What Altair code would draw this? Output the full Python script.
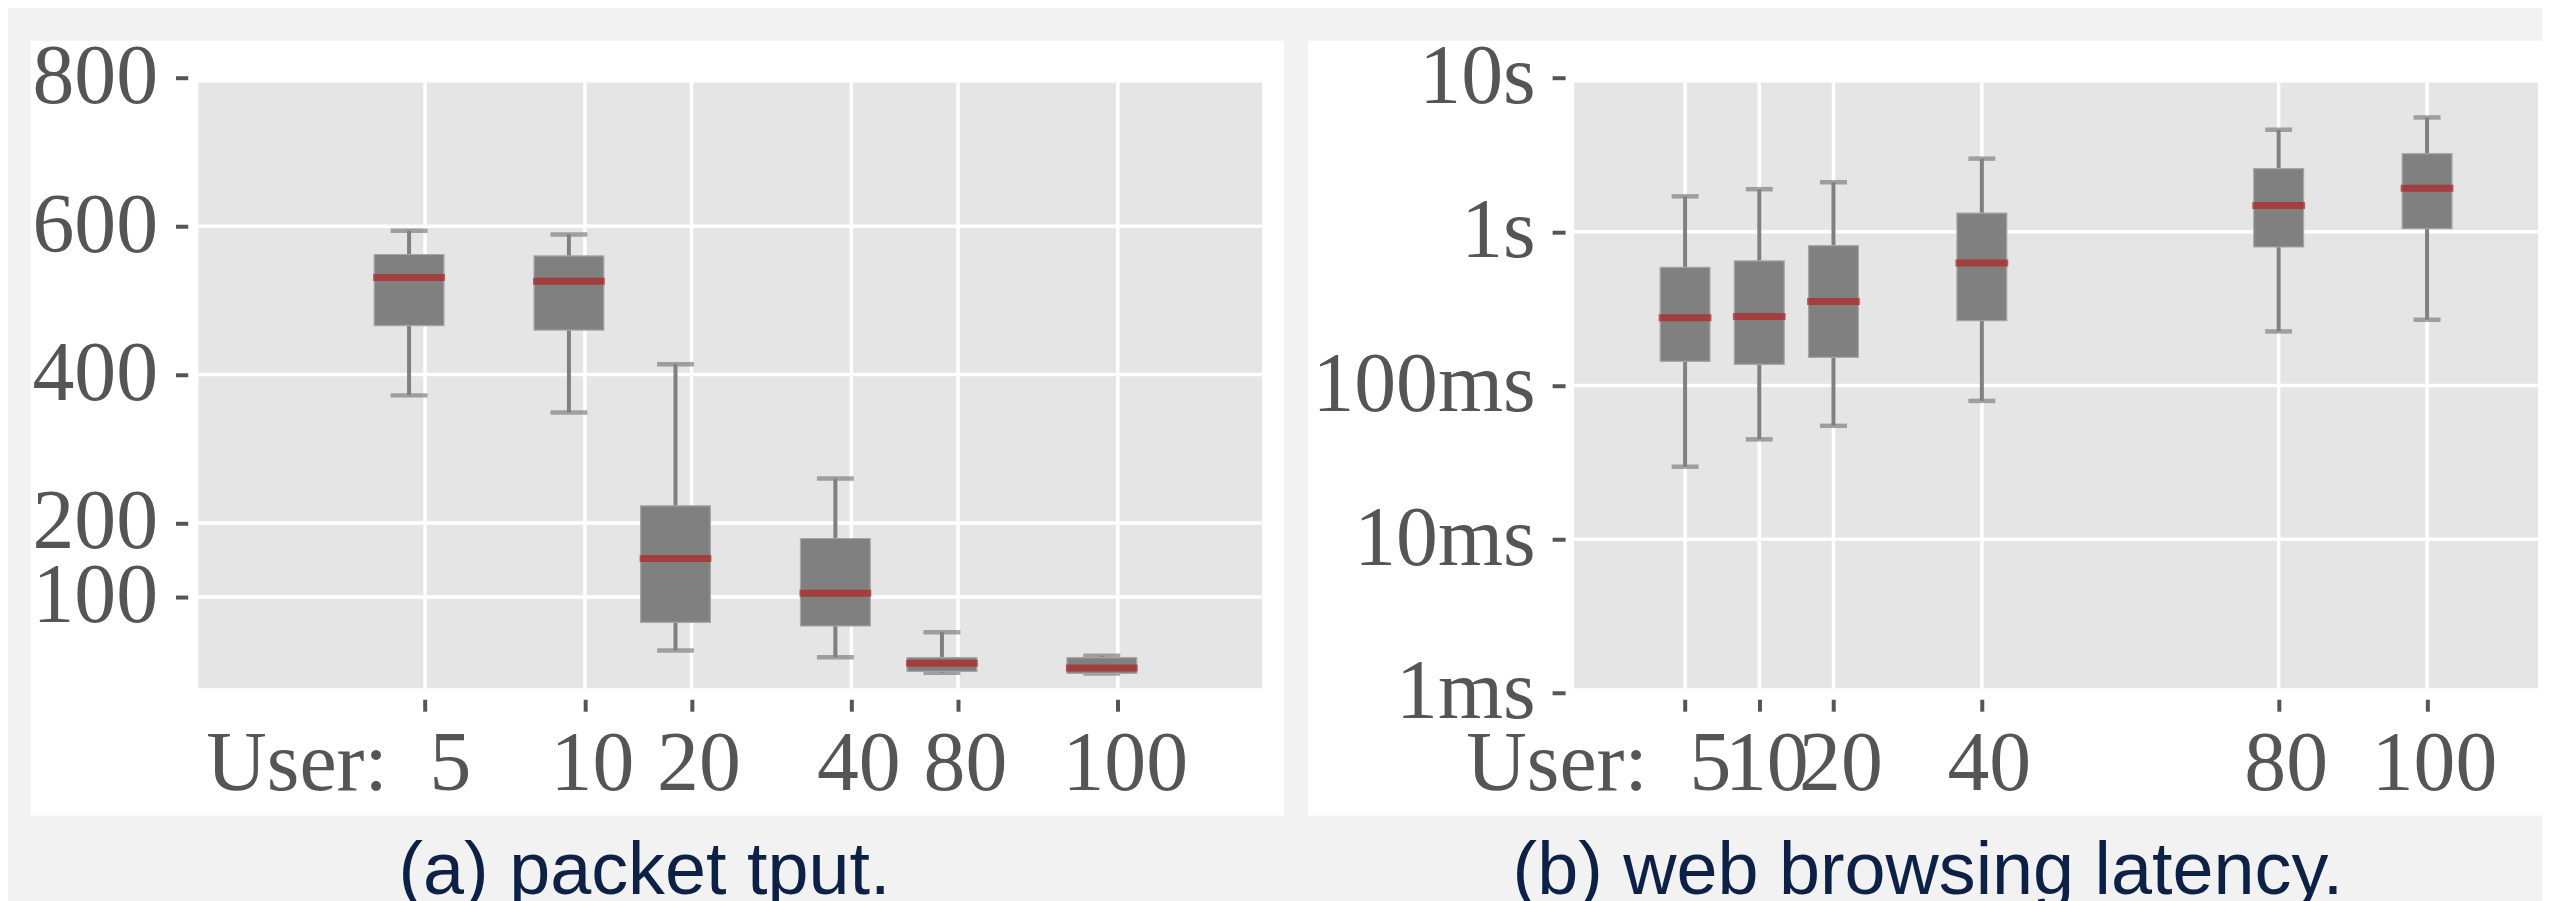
import altair as alt
import pandas as pd

# ---------------- data ----------------
users = [5, 10, 20, 40, 80, 100]
# (a) packet throughput
a_tick_pos = [0, 3, 5, 8, 10, 13]
a_tick_labels = ["User:\u00a0\u00a05", "10", "20", "40", "80", "100"]
a_box_pos = [-0.3, 2.7, 4.7, 7.7, 9.7, 12.7]
a_lo = [372, 349, 28, 19, -2.2, -3.2]
a_q1 = [466, 460, 66, 61, -0.2, -2.8]
a_med = [531, 526, 152, 105, 10.6, 4.3]
a_q3 = [562, 560, 223, 179, 18.3, 18.3]
a_hi = [594, 589, 414, 260, 52.7, 20.9]
a_yticks = [100, 200, 400, 600, 800]
a_ygrid = [100, 200, 400, 600]

# (b) web browsing latency (seconds)
b_tick_pos = [1, 2, 3, 5, 9, 11]
b_tick_labels = ["User:\u00a0\u00a05", "10", "20", "40", "80", "100"]
b_box_pos = [1, 2, 3, 5, 9, 11]
b_lo = [0.0296, 0.0446, 0.0546, 0.0793, 0.2246, 0.2676]
b_q1 = [0.1435, 0.1373, 0.1524, 0.2636, 0.7955, 1.046]
b_med = [0.2756, 0.2811, 0.3516, 0.6266, 1.482, 1.92]
b_q3 = [0.587, 0.6457, 0.811, 1.322, 2.575, 3.22]
b_hi = [1.70, 1.891, 2.10, 2.99, 4.61, 5.54]
b_yticks = [0.001, 0.01, 0.1, 1, 10]
b_ylabels = ["1ms", "10ms", "100ms", "1s", "10s"]
b_ygrid = [0.01, 0.1, 1]

LABEL_COLOR = "#555555"
SERIF = "Liberation Serif, DejaVu Serif, serif"
BOX_GRAY = "#808080"


def label_expr(values, labels):
    expr = "''"
    for v, l in reversed(list(zip(values, labels))):
        expr = f"abs(datum.value - {v}) < 1e-6 * max(1, abs({v})) ? '{l}' : {expr}"
    return expr


def panel(tick_pos, tick_labels, box_pos, lo, q1, med, q3, hi,
          yticks, ylabel_expr, ygrid, xdomain, yscale, W, H, plot_box,
          box_w, med_w, cap_w, yaxis_offset, ytick, yaxis_pad,
          caption, cap_dx):
    px1, px2, py1, py2 = plot_box
    xs = alt.Scale(domain=xdomain, nice=False, zero=False)
    first = tick_pos[0]
    xaxis = alt.Axis(
        values=tick_pos, labelExpr=label_expr(tick_pos, tick_labels),
        grid=False, domain=False, tickColor=LABEL_COLOR, tickWidth=4,
        tickSize=12, offset=-(H - 660.5), labelPadding=13, labelFont=SERIF,
        labelFontSize=84, labelColor=LABEL_COLOR, title=None, labelLimit=2000,
        labelOverlap=False, labelFlush=False,
        labelAlign={"condition": {"test": f"datum.value == {first}", "value": "right"},
                    "value": "center"},
        labelOffset={"condition": {"test": f"datum.value == {first}", "value": 46},
                     "value": 7},
    )
    yaxis_kw = dict(
        values=yticks, grid=False, domain=False, tickColor=LABEL_COLOR,
        tickWidth=4, tickSize=ytick, offset=yaxis_offset, labelPadding=yaxis_pad,
        labelFont=SERIF, labelFontSize=84, labelColor=LABEL_COLOR, title=None,
        labelOverlap=False, labelFlush=False, labelLimit=2000,
    )
    if ylabel_expr:
        yaxis_kw["labelExpr"] = ylabel_expr
    yaxis = alt.Axis(**yaxis_kw)

    one = pd.DataFrame({"k": [0]})
    gray = alt.Chart(one).mark_rect(color="#e5e5e5").encode(
        x=alt.value(px1), x2=alt.value(px2), y=alt.value(py1), y2=alt.value(py2))

    df_ticks = pd.DataFrame({"pos": tick_pos})
    vgrid = alt.Chart(df_ticks).mark_rule(color="white", strokeWidth=3.5).encode(
        x=alt.X("pos:Q", scale=xs, axis=xaxis),
        y=alt.value(py1), y2=alt.value(py2))
    df_ygrid = pd.DataFrame({"v": ygrid})
    hgrid = alt.Chart(df_ygrid).mark_rule(color="white", strokeWidth=3.5).encode(
        y=alt.Y("v:Q", scale=yscale, axis=yaxis),
        x=alt.value(px1), x2=alt.value(px2))

    df = pd.DataFrame({"users": users, "bpos": box_pos, "lo": lo, "q1": q1,
                       "med": med, "q3": q3, "hi": hi})
    X = alt.X("bpos:Q", scale=xs, axis=xaxis)

    def Y(f):
        return alt.Y(f"{f}:Q", scale=yscale, axis=yaxis)

    whisk = alt.Chart(df).mark_rule(color=BOX_GRAY, strokeWidth=4).encode(
        x=X, y=Y("lo"), y2="hi:Q")
    caps_lo = alt.Chart(df).mark_tick(orient="horizontal", size=cap_w, thickness=4.5,
                                      color=BOX_GRAY).encode(x=X, y=Y("lo"))
    caps_hi = alt.Chart(df).mark_tick(orient="horizontal", size=cap_w, thickness=4.5,
                                      color=BOX_GRAY).encode(x=X, y=Y("hi"))
    box = alt.Chart(df).mark_bar(size=box_w, color=BOX_GRAY, stroke="#a6a6a6",
                                 strokeWidth=1.2).encode(x=X, y=Y("q1"), y2="q3:Q")
    medl = alt.Chart(df).mark_tick(orient="horizontal", size=med_w, thickness=7,
                                   color="#b22222").encode(x=X, y=Y("med"))

    return alt.layer(gray, vgrid, hgrid, whisk, caps_lo, caps_hi,
                     box, medl).properties(
        width=W, height=H,
        title=alt.TitleParams(caption, orient="bottom", anchor="middle",
                              font="Liberation Sans, Arial, sans-serif",
                              fontSize=74, fontWeight="normal", color="#0d2146",
                              baseline="alphabetic", offset=79, dx=cap_dx))


# left panel: white panel page x 31..1288, y 34.5..811.5
left = panel(a_tick_pos, a_tick_labels, a_box_pos, a_lo, a_q1, a_med, a_q3, a_hi,
             a_yticks, None, a_ygrid, [-7.3026, 16.025],
             alt.Scale(domain=[-194.4, 850.14], nice=False, zero=False),
             W=1257, H=777, plot_box=(168, 1235, 41.9, 649.5),
             box_w=70, med_w=72, cap_w=37, yaxis_offset=-157.3, ytick=12.3,
             yaxis_pad=18, caption="(a) packet tput.", cap_dx=-13)

# right panel: white panel page x 1312..2550
right = panel(b_tick_pos, b_tick_labels, b_box_pos, b_lo, b_q1, b_med, b_q3, b_hi,
              b_yticks, label_expr(b_yticks, b_ylabels), b_ygrid, [-4.016, 12.482],
              alt.Scale(type="log", domain=[1.5955e-4, 17.46], nice=False),
              W=1238, H=777, plot_box=(267, 1234, 41.9, 649.5),
              box_w=50, med_w=53, cap_w=27, yaxis_offset=-258, ytick=13,
              yaxis_pad=17, caption="(b) web browsing latency.", cap_dx=3)

chart = alt.hconcat(left, right, spacing=24).properties(
    background="#f2f2f2",
    padding={"left": 23, "top": 26.5, "right": 0, "bottom": 0},
).configure_view(stroke=None, fill="white")

chart.save("out.html", embed_options={"renderer": "svg", "actions": False})
